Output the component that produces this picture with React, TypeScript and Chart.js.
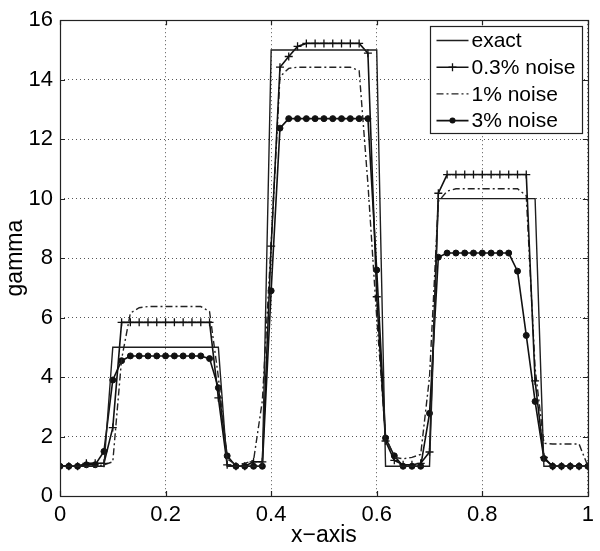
import React, { useEffect, useRef } from "react";
import { Chart, registerables } from "chart.js";
Chart.register(...registerables);

const xValues = [
  0, 0.0167, 0.0333, 0.05, 0.0667, 0.0833, 0.1, 0.1167, 0.1333, 0.15, 0.1667, 0.1833, 0.2, 0.2167, 0.2333, 0.25,
  0.2667, 0.2833, 0.3, 0.3167, 0.3333, 0.35, 0.3667, 0.3833, 0.4, 0.4167, 0.4333, 0.45, 0.4667, 0.4833, 0.5,
  0.5167, 0.5333, 0.55, 0.5667, 0.5833, 0.6, 0.6167, 0.6333, 0.65, 0.6667, 0.6833, 0.7, 0.7167, 0.7333, 0.75,
  0.7667, 0.7833, 0.8, 0.8167, 0.8333, 0.85, 0.8667, 0.8833, 0.9, 0.9167, 0.9333, 0.95, 0.9667, 0.9833, 1,
];

const exact = [
  1, 1, 1, 1, 1, 1,
  5, 5, 5, 5, 5, 5, 5, 5, 5, 5, 5, 5, 5,
  1, 1, 1, 1, 1,
  15, 15, 15, 15, 15, 15, 15, 15, 15, 15, 15, 15, 15,
  1, 1, 1, 1, 1, 1,
  10, 10, 10, 10, 10, 10, 10, 10, 10, 10, 10, 10,
  1, 1, 1, 1, 1, 1,
];

const noise03 = [
  1.0, 1.0, 1.0, 1.1, 1.1, 1.1, 2.3,
  5.84, 5.84, 5.84, 5.84, 5.84, 5.84, 5.84, 5.84, 5.84, 5.84, 5.84,
  3.3, 1.05, 1.0, 1.0, 1.15, 1.15,
  8.4, 14.42, 14.78, 15.12,
  15.22, 15.22, 15.22, 15.22, 15.22, 15.22, 15.22,
  14.89, 6.7, 1.85, 1.2, 1.05, 1.05, 1.1, 1.48,
  10.18,
  10.81, 10.81, 10.81, 10.81, 10.81, 10.81, 10.81, 10.81, 10.81, 10.81,
  3.87, 1.3,
  1.0, 1.0, 1.0, 1.0, 1.0,
];

const noise1 = [
  1.0, 1.0, 1.0, 1.0, 1.0,
  1.05, 1.15, 4.6, 6.15, 6.33,
  6.37, 6.37, 6.37, 6.37, 6.37, 6.37, 6.37,
  6.2, 4.0, 1.25, 1.05, 1.1, 1.2, 3.2, 8.5, 14.1, 14.38,
  14.42, 14.42, 14.42, 14.42, 14.42, 14.42, 14.42,
  14.3, 10.5, 6.0, 2.0, 1.3, 1.25, 1.3, 1.4, 4.0, 9.9, 10.25,
  10.33, 10.33, 10.33, 10.33, 10.33, 10.33, 10.33, 10.33,
  10.1, 4.3, 1.77,
  1.75, 1.75, 1.75, 1.75,
  1.0,
];

const noise3 = [
  1.0, 1.0, 1.0, 1.05, 1.05, 1.5, 3.9, 4.55,
  4.71, 4.71, 4.71, 4.71, 4.71, 4.71, 4.71, 4.71, 4.71,
  4.62, 3.64, 1.35,
  1.0, 1.0, 1.0, 1.0,
  6.9, 12.37,
  12.69, 12.69, 12.69, 12.69, 12.69, 12.69, 12.69, 12.69, 12.69, 12.69,
  7.6, 1.95, 1.35, 1.0, 1.0, 1.0, 2.78, 8.03,
  8.17, 8.17, 8.17, 8.17, 8.17, 8.17, 8.17, 8.17,
  7.56, 5.4, 3.18, 1.26,
  1.0, 1.0, 1.0, 1.0, 1.0,
];

const seriesLabels = ["exact", "0.3% noise", "1% noise", "3% noise"];
const xTicks = [0, 0.2, 0.4, 0.6, 0.8, 1];
const yTicks = [0, 2, 4, 6, 8, 10, 12, 14, 16];
const xTitle = "x\u2212axis";
const yTitle = "gamma";

const FONT = "'Liberation Sans', Arial, Helvetica, sans-serif";

const framePlugin = {
  id: "frame",
  afterDraw(chart: any) {
    const { ctx, chartArea: a, scales } = chart;
    ctx.save();
    ctx.strokeStyle = "#222";
    ctx.lineWidth = 1.2;
    ctx.setLineDash([]);
    ctx.strokeRect(Math.round(a.left) + 0.5, Math.round(a.top) + 0.5, Math.round(a.right - a.left), Math.round(a.bottom - a.top));
    const tl = 5;
    ctx.beginPath();
    xTicks.forEach((v) => {
      const p = Math.round(scales.x.getPixelForValue(v)) + 0.5;
      ctx.moveTo(p, a.bottom);
      ctx.lineTo(p, a.bottom - tl);
      ctx.moveTo(p, a.top);
      ctx.lineTo(p, a.top + tl);
    });
    yTicks.forEach((v) => {
      const p = Math.round(scales.y.getPixelForValue(v)) + 0.5;
      ctx.moveTo(a.left, p);
      ctx.lineTo(a.left + tl, p);
      ctx.moveTo(a.right, p);
      ctx.lineTo(a.right - tl, p);
    });
    ctx.stroke();
    ctx.restore();
  },
};

const legendPlugin = {
  id: "boxLegend",
  afterDraw(chart: any) {
    const { ctx, chartArea: a } = chart;
    const ds = chart.data.datasets;
    const boxW = 152;
    const boxH = 107;
    const x0 = Math.round(a.right - 6 - boxW) + 0.5;
    const y0 = Math.round(a.top + 6) + 0.5;
    ctx.save();
    ctx.fillStyle = "#fff";
    ctx.fillRect(x0, y0, boxW, boxH);
    ctx.strokeStyle = "#222";
    ctx.lineWidth = 1.2;
    ctx.setLineDash([]);
    ctx.strokeRect(x0, y0, boxW, boxH);
    const rowH = 26.7;
    ds.forEach((d: any, i: number) => {
      const cy = y0 + 14 + i * rowH;
      const lx0 = x0 + 6;
      const lx1 = x0 + 38;
      ctx.strokeStyle = d.borderColor;
      ctx.lineWidth = d.borderWidth;
      ctx.setLineDash(d.borderDash || []);
      ctx.beginPath();
      ctx.moveTo(lx0, cy);
      ctx.lineTo(lx1, cy);
      ctx.stroke();
      ctx.setLineDash([]);
      const mx = (lx0 + lx1) / 2;
      if (d.pointRadius > 0) {
        if (d.pointStyle === "cross") {
          ctx.lineWidth = 1.3;
          ctx.beginPath();
          ctx.moveTo(mx, cy - 4);
          ctx.lineTo(mx, cy + 4);
          ctx.moveTo(mx - 4, cy);
          ctx.lineTo(mx + 4, cy);
          ctx.stroke();
        } else {
          ctx.fillStyle = d.pointBackgroundColor;
          ctx.beginPath();
          ctx.arc(mx, cy, 3, 0, Math.PI * 2);
          ctx.fill();
        }
      }
      ctx.fillStyle = "#000";
      ctx.font = `21px ${FONT}`;
      ctx.textBaseline = "middle";
      ctx.textAlign = "left";
      ctx.fillText(d.label, lx1 + 3, cy + 1);
    });
    ctx.restore();
  },
};

export default function App() {
  const ref = useRef<HTMLCanvasElement>(null);
  useEffect(() => {
    document.body.style.margin = "0";
    const mk = (arr: number[]) => xValues.map((x, i) => ({ x, y: arr[i] }));
    const tickFont = { family: FONT, size: 22 };
    const titleFont = { family: FONT, size: 23 };
    const chart = new Chart(ref.current as HTMLCanvasElement, {
      type: "line",
      data: {
        datasets: [
          { label: seriesLabels[0], data: mk(exact), borderColor: "#1e1e1e", borderWidth: 1.4, pointRadius: 0, tension: 0 },
          {
            label: seriesLabels[1], data: mk(noise03), borderColor: "#111", borderWidth: 1.6,
            pointStyle: "cross", pointRadius: 4, pointBorderWidth: 1.3, pointBorderColor: "#111", pointBackgroundColor: "#111",
          },
          { label: seriesLabels[2], data: mk(noise1), borderColor: "#222", borderWidth: 1.4, borderDash: [7, 3, 2, 3], pointRadius: 0 },
          {
            label: seriesLabels[3], data: mk(noise3), borderColor: "#111", borderWidth: 1.6,
            pointStyle: "circle", pointRadius: 3, pointBorderWidth: 1, pointBorderColor: "#111", pointBackgroundColor: "#111",
          },
        ],
      } as any,
      options: {
        responsive: false,
        animation: false,
        layout: { padding: { top: 15, right: 11, left: 0, bottom: 0 } },
        plugins: { legend: { display: false }, tooltip: { enabled: false } },
        scales: {
          x: {
            type: "linear",
            min: 0,
            max: 1,
            afterBuildTicks: (s: any) => { s.ticks = xTicks.map((v) => ({ value: v })); },
            afterFit: (s: any) => { s.height = 55; },
            ticks: { font: tickFont, color: "#000", padding: 6, maxRotation: 0, callback: (v: any) => String(v) },
            grid: { color: "#555", drawTicks: false, lineWidth: 1 },
            border: { display: false, dash: [1, 3] },
            title: { display: true, text: xTitle, font: titleFont, color: "#000", padding: { top: 0, bottom: 2 } },
          },
          y: {
            type: "linear",
            min: 0,
            max: 16,
            afterBuildTicks: (s: any) => { s.ticks = yTicks.map((v) => ({ value: v })); },
            afterFit: (s: any) => { s.width = 60; },
            ticks: { font: tickFont, color: "#000", padding: 7, callback: (v: any) => String(v) },
            grid: { color: "#555", drawTicks: false, lineWidth: 1 },
            border: { display: false, dash: [1, 3] },
            title: { display: true, text: yTitle, font: titleFont, color: "#000", padding: { top: 2, bottom: 0 } },
          },
        },
      } as any,
      plugins: [framePlugin, legendPlugin],
    });
    return () => chart.destroy();
  }, []);
  return (
    <div style={{ width: 600, height: 551 }}>
      <canvas ref={ref} width={600} height={551} />
    </div>
  );
}
